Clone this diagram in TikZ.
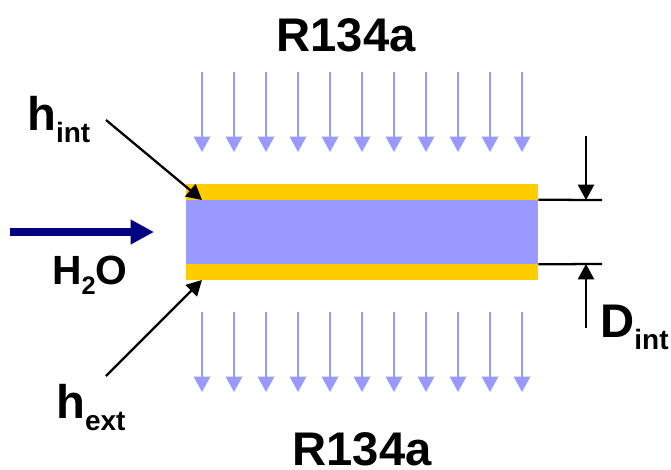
\documentclass[tikz,border=0pt]{standalone}
\usepackage{fontspec}
\setmainfont{Liberation Sans}
\usepackage{xcolor}
\usetikzlibrary{arrows.meta, positioning}
\definecolor{flowblue}{HTML}{9999FF}
\definecolor{wallyellow}{HTML}{FFCC00}
\definecolor{waterblue}{HTML}{000080}
\newcommand{\lowtxt}[1]{\raisebox{-9.3pt}{\fontsize{21}{21}\selectfont #1}}
\newcommand{\lowtwo}[1]{\raisebox{-7.5pt}{\fontsize{19}{19}\selectfont #1}}

\begin{document}
\begin{tikzpicture}[
    x=0.75pt, y=-0.75pt,
    wall/.style={fill=wallyellow, inner sep=0pt, minimum width=264pt, minimum height=72pt},
    core/.style={fill=flowblue, inner sep=0pt, minimum width=264pt, minimum height=48pt},
    lbl/.style={font=\fontsize{35.4}{35.4}\bfseries\selectfont, inner sep=0pt},
    small lbl/.style={font=\fontsize{30.6}{30.6}\bfseries\selectfont, inner sep=0pt},
    flow/.style={-{Triangle[length=11.5pt, width=12pt]}, flowblue, line width=1.9pt},
    water/.style={-{Triangle[length=17.5pt, width=17.5pt]}, waterblue, line width=6pt},
    pointer/.style={-{Triangle[length=11.5pt, width=12pt]}, black, line width=1.7pt},
    dimline/.style={black, line width=1.7pt}
]
\useasboundingbox (0,0) rectangle (671,469);

\node[wall] (wall) at (362,232) {};
\node[core] (tube) at (wall.center) {};

\node[lbl, anchor=base] (top) at (346,51) {R134a};
\node[lbl, anchor=base] (bottom) at (362,465) {R134a};
\node[lbl, anchor=base west] (hint) at (27,130) {h\lowtxt{int}};
\node[lbl, anchor=base west] (hext) at (56,418) {h\lowtxt{ext}};
\node[small lbl, anchor=base west] (water) at (52,284) {H\lowtwo{2}O};
\node[lbl, anchor=base west] (dint) at (600,337) {D\lowtxt{int}};

% refrigerant
\foreach \x in {202,234,...,522} {
    \coordinate (ta\x) at (\x,72);
    \coordinate (tb\x) at (\x,152);
    \coordinate (ba\x) at (\x,312);
    \coordinate (bb\x) at (\x,392);
    \draw[flow] (ta\x) -- (tb\x);
    \draw[flow] (ba\x) -- (bb\x);
}

\coordinate (win) at (10,232);
\coordinate (wout) at (154,232);
\draw[water] (win) -- (wout);

\coordinate (ha) at (106,120);
\coordinate (hb) at (202,200);
\coordinate (ea) at (106,376);
\coordinate (eb) at (202,280);
\draw[pointer] (ha) -- (hb);
\draw[pointer] (ea) -- (eb);

\coordinate (dt) at (602,200);
\coordinate (db) at (602,264);
\draw[dimline] (tube.north east) -- (dt);
\draw[dimline] (tube.south east) -- (db);
\coordinate (da) at (586,136);
\coordinate (dc) at (586,200);
\coordinate (dd) at (586,328);
\coordinate (de) at (586,264);
\draw[pointer] (da) -- (dc);
\draw[pointer] (dd) -- (de);
\end{tikzpicture}
\end{document}
